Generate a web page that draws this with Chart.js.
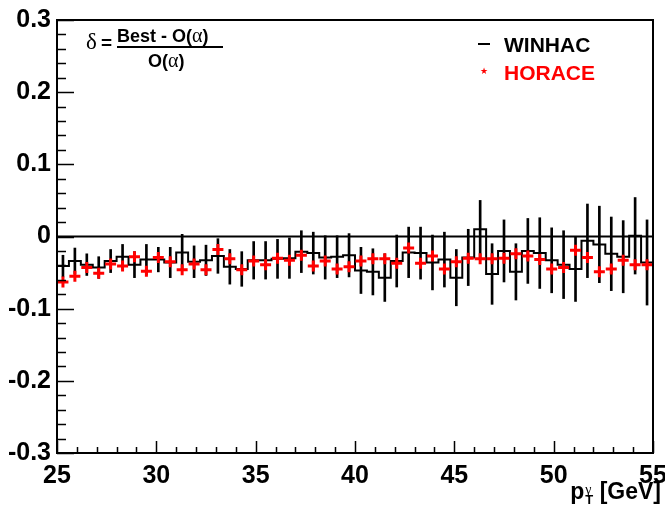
<!DOCTYPE html>
<html>
<head>
<meta charset="utf-8">
<script src="https://cdn.jsdelivr.net/npm/chart.js@4"></script>
<style>
  body { margin: 0; background: #fff; }
  #wrap { position: relative; width: 665px; height: 505px; }
  #wrap div { position: absolute; white-space: nowrap; }
  .b { font-family: "Liberation Sans", Arial, sans-serif; font-weight: bold; }
  .gr { font-family: "Liberation Serif", "DejaVu Serif", serif; font-weight: normal; }
</style>
</head>
<body>
<div id="wrap">
  <canvas id="myChart" width="665" height="505"></canvas>

  <!-- formula -->
  <div class="gr" style="left:86px; top:30px; font-size:23px; line-height:1;">δ</div>
  <div class="b" style="left:101px; top:33px; font-size:19px; line-height:1;">=</div>
  <div class="b" style="left:117px; top:25px; font-size:18px; line-height:1;">Best - O(<span class="gr" style="font-size:20px;">α</span>)</div>
  <div style="left:117px; top:46px; width:106px; height:2px; background:#000;"></div>
  <div class="b" style="left:148px; top:50px; font-size:18px; line-height:1;">O(<span class="gr" style="font-size:20px;">α</span>)</div>

  <!-- legend -->
  <div style="left:478px; top:43px; width:12px; height:2px; background:#000;"></div>
  <div class="b" style="left:504px; top:34px; font-size:21px; line-height:1;">WINHAC</div>
  <div style="left:480px; top:67px; font-size:9px; line-height:1; color:#f00;">★</div>
  <div class="b" style="left:504px; top:62px; font-size:21px; line-height:1; color:#f00;">HORACE</div>

  <!-- x axis title -->
  <div class="b" style="right:4px; top:480px; font-size:23px; line-height:1;">p<span style="display:inline-block; vertical-align:-5px; font-size:13px; line-height:10px; text-align:left; margin-left:1px;"><span class="gr" style="display:block; font-size:14px;">γ</span><span style="display:block;">T</span></span> [GeV]</div>
</div>

<script>
const ctx = document.getElementById("myChart");

// bin centres in GeV (bin width 0.6)
const ptBins = [
  25.3, 25.9, 26.5, 27.1, 27.7, 28.3, 28.9, 29.5, 30.1, 30.7,
  31.3, 31.9, 32.5, 33.1, 33.7, 34.3, 34.9, 35.5, 36.1, 36.7,
  37.3, 37.9, 38.5, 39.1, 39.7, 40.3, 40.9, 41.5, 42.1, 42.7,
  43.3, 43.9, 44.5, 45.1, 45.7, 46.3, 46.9, 47.5, 48.1, 48.7,
  49.3, 49.9, 50.5, 51.1, 51.7, 52.3, 52.9, 53.5, 54.1, 54.7,
];
const binHalf = 0.3;

const winhac = [
  -0.041, -0.034, -0.039, -0.043, -0.034, -0.028, -0.039, -0.032, -0.032, -0.036,
  -0.022, -0.035, -0.033, -0.027, -0.042, -0.045, -0.033, -0.033, -0.031, -0.030,
  -0.021, -0.023, -0.029, -0.028, -0.026, -0.047, -0.049, -0.057, -0.034, -0.022,
  -0.023, -0.036, -0.032, -0.057, -0.029, 0.010, -0.052, -0.020, -0.049, -0.020,
  -0.023, -0.033, -0.039, -0.045, -0.006, -0.011, -0.024, -0.028, 0.001, -0.036,
];
const winhacErr = [
  0.015, 0.018, 0.015, 0.015, 0.016, 0.017, 0.018, 0.021, 0.017, 0.021,
  0.025, 0.022, 0.021, 0.024, 0.024, 0.024, 0.026, 0.026, 0.027, 0.028,
  0.029, 0.029, 0.030, 0.029, 0.030, 0.032, 0.032, 0.033, 0.036, 0.035,
  0.036, 0.038, 0.038, 0.039, 0.039, 0.040, 0.042, 0.043, 0.039, 0.045,
  0.049, 0.045, 0.047, 0.045, 0.051, 0.053, 0.051, 0.050, 0.053, 0.059,
];
const horace = [
  -0.063, -0.055, -0.043, -0.051, -0.038, -0.041, -0.028, -0.048, -0.029, -0.035,
  -0.046, -0.038, -0.046, -0.018, -0.031, -0.046, -0.034, -0.039, -0.030, -0.033,
  -0.026, -0.041, -0.034, -0.045, -0.042, -0.034, -0.031, -0.031, -0.037, -0.016,
  -0.037, -0.027, -0.045, -0.035, -0.030, -0.031, -0.031, -0.030, -0.024, -0.027,
  -0.032, -0.045, -0.043, -0.019, -0.029, -0.049, -0.045, -0.033, -0.039, -0.039,
];

const xTicks = [25, 30, 35, 40, 45, 50, 55];
const yTicks = [-0.3, -0.2, -0.1, 0, 0.1, 0.2, 0.3];

// step outline: each bin value held from its low edge, plus the closing edge
const stepData = ptBins.map((c, i) => ({ x: c - binHalf, y: winhac[i] }));
stepData.push({ x: ptBins[ptBins.length - 1] + binHalf, y: winhac[winhac.length - 1] });

const errData = ptBins.map((c, i) => ({ x: c, y: [winhac[i] - winhacErr[i], winhac[i] + winhacErr[i]] }));
const horaceData = ptBins.map((c, i) => ({ x: c, y: horace[i] }));

// ROOT style frame with inward ticks
const marcoRoot = {
  id: "marcoRoot",
  afterDatasetsDraw(chart) {
    const { ctx, chartArea: a, scales } = chart;
    ctx.save();
    ctx.strokeStyle = "#000";
    ctx.lineWidth = 1.5;
    ctx.beginPath();
    for (let v = xTicks[0]; v <= xTicks[xTicks.length - 1] + 1e-9; v += 1) {
      const px = Math.round(scales.x.getPixelForValue(v)) + 0.5;
      const len = Math.abs(v % 5) < 1e-6 ? 12 : 6;
      ctx.moveTo(px, a.bottom);
      ctx.lineTo(px, a.bottom - len);
    }
    for (let k = -15; k <= 15; k++) {
      const v = k * 0.02;
      const py = Math.round(scales.y.getPixelForValue(v)) + 0.5;
      const len = k % 5 === 0 ? 17 : 9;
      ctx.moveTo(a.left, py);
      ctx.lineTo(a.left + len, py);
    }
    ctx.stroke();
    ctx.lineWidth = 2;
    ctx.strokeRect(a.left, a.top, a.right - a.left, a.bottom - a.top);
    ctx.restore();
  },
};

const tickFont = { family: "'Liberation Sans', Arial, sans-serif", size: 25, weight: "bold", lineHeight: 1 };

new Chart(ctx, {
  type: "scatter",
  data: {
    datasets: [
      {
        type: "line",
        label: "zero",
        data: [{ x: 25, y: 0 }, { x: 55, y: 0 }],
        borderColor: "#000",
        borderWidth: 2,
        pointRadius: 0,
        order: 4,
      },
      {
        type: "bar",
        label: "WINHAC err",
        data: errData,
        backgroundColor: "#000",
        barThickness: 2,
        grouped: false,
        order: 3,
      },
      {
        type: "line",
        label: "WINHAC",
        data: stepData,
        stepped: true,
        borderColor: "#000",
        borderWidth: 2,
        pointRadius: 0,
        fill: false,
        order: 2,
      },
      {
        type: "scatter",
        label: "HORACE",
        data: horaceData,
        pointStyle: "cross",
        pointRadius: 5.5,
        borderColor: "#ff0000",
        backgroundColor: "#ff0000",
        borderWidth: 3,
        order: 1,
      },
    ],
  },
  options: {
    responsive: false,
    devicePixelRatio: 1,
    animation: false,
    layout: { padding: { top: 20, right: 12, left: 0, bottom: 0 } },
    plugins: { legend: { display: false }, tooltip: { enabled: false } },
    scales: {
      x: {
        type: "linear",
        min: 25,
        max: 55,
        offset: false,
        afterFit: (s) => {
          s.height = 52;
          s.paddingLeft = 0;
          s.paddingRight = 0;
        },
        afterBuildTicks: (s) => { s.ticks = xTicks.map((v) => ({ value: v })); },
        ticks: { color: "#000", font: tickFont, padding: 11, maxRotation: 0 },
        grid: { display: false, drawTicks: false },
        border: { display: false },
      },
      y: {
        min: -0.3,
        max: 0.3,
        afterFit: (s) => {
          s.width = 57;
          s.paddingTop = 0;
          s.paddingBottom = 0;
        },
        afterBuildTicks: (s) => { s.ticks = yTicks.map((v) => ({ value: v })); },
        ticks: {
          color: "#000",
          font: tickFont,
          padding: 6,
          callback: (v) => (Math.abs(v) < 1e-9 ? "0" : Number(v).toFixed(1)),
        },
        grid: { display: false, drawTicks: false },
        border: { display: false },
      },
    },
  },
  plugins: [marcoRoot],
});
</script>
</body>
</html>
